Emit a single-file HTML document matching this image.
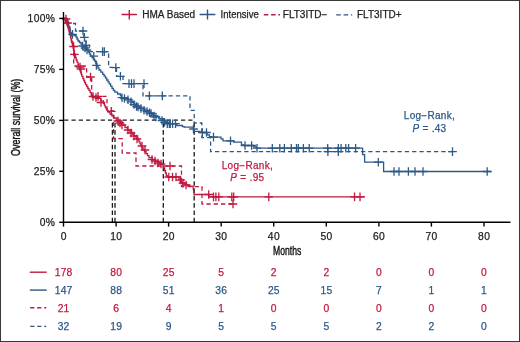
<!DOCTYPE html>
<html><head><meta charset="utf-8"><style>
html,body{margin:0;padding:0;background:#fff;}
body{width:520px;height:342px;overflow:hidden;font-family:"Liberation Sans",sans-serif;}
svg{display:block;will-change:transform;}
</style></head><body>
<svg width="520" height="342" viewBox="0 0 520 342"><rect x="0.5" y="0.5" width="519" height="341" fill="#fff" stroke="#383838" stroke-width="1"/>
<g stroke="#1a1a1a" stroke-width="1.3" stroke-dasharray="4.3 3" fill="none">
<path d="M64.2 120.2 H194.2" stroke-dasharray="4.2 3.1"/>
<path d="M112.4 222.3 V120.3" stroke-dasharray="4.6 2.7"/>
<path d="M115.0 222.3 V120.3" stroke-dasharray="4.6 2.7"/>
<path d="M163.3 222.3 V120.3" stroke-dasharray="4.6 2.7"/>
<path d="M194.2 222.3 V120.3" stroke-dasharray="4.6 2.7"/>
</g>
<g fill="none" stroke-width="1.3">
<path d="M63.5 18.4 H66.0 V22.0 H68.0 V27.0 H70.0 V33.0 H71.5 V42.0 H73.7 V52.0 H73.7 V66.0 H86.6 V77.0 H91.7 V96.4 H107.0 V111.0 H113.5 V138.7 H122.2 V153.0 H136.0 V166.0 H181.5 V186.6 H202.0 V204.0 H234.0" stroke="#bf1a3f" stroke-dasharray="4.3 3"/>
<path d="M63.5 18.4 H68.5 V23.5 H75.5 V31.0 H84.0 V37.4 H86.0 V45.4 H89.5 V51.6 H108.6 V67.4 H116.5 V76.3 H123.0 V83.6 H143.0 V95.9 H190.0 V110.3 H194.2 V123.0 H201.8 V137.7 H210.6 V151.6 H452.5" stroke="#2d5987" stroke-dasharray="4.3 3"/>
<path d="M63.5 18.4 H66.5 V21.0 H67.5 V23.5 H68.5 V26.0 H69.2 V28.5 H70.0 V31.0 H70.5 V32.7 H71.0 V34.4 H74.0 V35.5 H76.0 V37.0 H77.0 V39.0 H78.0 V41.0 H79.5 V42.5 H81.0 V44.0 H82.5 V45.5 H84.0 V47.0 H85.5 V48.5 H87.0 V50.0 H88.2 V52.0 H89.4 V54.0 H90.7 V55.8 H92.0 V57.5 H93.3 V59.2 H94.7 V61.0 H95.8 V63.5 H97.0 V66.0 H98.0 V68.0 H99.0 V70.0 H100.8 V72.2 H102.7 V74.4 H104.1 V76.2 H105.5 V78.1 H106.7 V80.0 H108.0 V81.9 H109.2 V83.8 H110.6 V86.1 H112.0 V88.4 H113.4 V90.3 H114.8 V92.2 H117.6 V94.0 H120.4 V95.5 H121.4 V97.7 H127.2 V99.5 H131.9 V102.4 H133.7 V104.2 H135.4 V105.9 H140.0 V108.2 H144.7 V110.6 H149.4 V112.9 H151.8 V114.7 H154.1 V116.4 H158.8 V118.7 H163.5 V121.1 H167.0 V123.7 H176.7 V125.5 H182.5 V126.6 H184.3 V127.2 H193.5 V130.7 H194.2 V131.3 H200.0 V132.5 H207.0 V134.8 H209.4 V136.6 H211.8 V137.1 H221.0 V138.8 H223.0 V140.8 H233.5 V142.1 H241.5 V144.8 H244.2 V145.5 H253.6 V146.8 H256.3 V148.2 H362.6 V154.6 H364.6 V162.2 H383.6 V171.5 H491.5" stroke="#2d5987"/>
<path d="M63.5 18.4 H65.0 V21.0 H65.9 V23.0 H66.8 V25.0 H67.7 V27.5 H68.5 V30.0 H69.0 V31.8 H69.5 V33.5 H70.0 V35.2 H70.5 V37.0 H70.9 V38.8 H71.3 V40.5 H71.8 V42.2 H72.2 V44.0 H72.6 V46.0 H73.1 V48.0 H73.5 V50.0 H74.0 V51.9 H74.4 V53.7 H75.0 V55.8 H75.6 V57.9 H76.2 V60.0 H77.1 V62.2 H78.0 V64.5 H78.8 V67.0 H79.7 V69.4 H80.3 V71.2 H80.8 V72.9 H81.4 V74.7 H82.0 V76.4 H82.9 V78.5 H83.8 V80.5 H84.6 V82.5 H85.5 V84.6 H86.7 V86.5 H87.8 V88.5 H89.0 V90.4 H90.2 V92.7 H91.3 V95.0 H92.6 V97.4 H95.5 V98.4 H100.8 V100.8 H103.4 V103.4 H104.3 V105.2 H105.1 V106.9 H106.0 V108.7 H107.0 V110.3 H108.0 V112.0 H110.0 V114.0 H112.0 V116.0 H114.0 V118.0 H117.0 V120.5 H120.0 V123.0 H122.5 V125.2 H125.0 V127.5 H127.5 V129.8 H130.0 V132.0 H132.0 V134.0 H134.0 V136.0 H136.0 V138.0 H138.0 V140.0 H139.0 V141.9 H140.0 V143.8 H141.0 V145.7 H142.0 V147.6 H143.0 V149.5 H144.5 V151.5 H146.0 V153.6 H147.5 V155.6 H149.0 V157.6 H152.3 V159.6 H155.6 V161.7 H160.0 V164.5 H163.0 V166.5 H163.8 V168.0 H164.6 V170.5 H165.4 V173.0 H166.3 V175.3 H167.2 V177.0 H179.0 V179.3 H180.3 V181.5 H181.5 V183.0 H185.0 V185.0 H189.5 V186.2 H193.2 V189.0 H193.6 V192.0 H194.0 V194.5 H209.0 V196.9 H365.0" stroke="#bf1a3f"/>
</g>
<g fill="none" stroke-width="1.3">
<path d="M75.7 67.0 h8.6 M80.0 62.7 v8.6" stroke="#bf1a3f"/>
<path d="M86.2 77.0 h8.6 M90.5 72.7 v8.6" stroke="#bf1a3f"/>
<path d="M165.7 166.0 h8.6 M170.0 161.7 v8.6" stroke="#bf1a3f"/>
<path d="M228.7 204.0 h8.6 M233.0 199.7 v8.6" stroke="#bf1a3f"/>
<path d="M78.7 31.0 h8.6 M83.0 26.7 v8.6" stroke="#2d5987"/>
<path d="M80.1 37.4 h8.6 M84.4 33.1 v8.6" stroke="#2d5987"/>
<path d="M81.7 45.4 h8.6 M86.0 41.1 v8.6" stroke="#2d5987"/>
<path d="M98.3 51.6 h8.6 M102.6 47.3 v8.6" stroke="#2d5987"/>
<path d="M100.0 51.6 h8.6 M104.3 47.3 v8.6" stroke="#2d5987"/>
<path d="M111.5 67.6 h8.6 M115.8 63.3 v8.6" stroke="#2d5987"/>
<path d="M116.1 76.3 h8.6 M120.4 72.0 v8.6" stroke="#2d5987"/>
<path d="M124.7 83.6 h8.6 M129.0 79.3 v8.6" stroke="#2d5987"/>
<path d="M127.2 83.6 h8.6 M131.5 79.3 v8.6" stroke="#2d5987"/>
<path d="M129.7 83.6 h8.6 M134.0 79.3 v8.6" stroke="#2d5987"/>
<path d="M139.7 83.6 h8.6 M144.0 79.3 v8.6" stroke="#2d5987"/>
<path d="M145.1 95.9 h8.6 M149.4 91.6 v8.6" stroke="#2d5987"/>
<path d="M158.0 95.9 h8.6 M162.3 91.6 v8.6" stroke="#2d5987"/>
<path d="M323.6 151.6 h8.6 M327.9 147.3 v8.6" stroke="#2d5987"/>
<path d="M334.0 151.6 h8.6 M338.3 147.3 v8.6" stroke="#2d5987"/>
<path d="M448.2 151.6 h8.6 M452.5 147.3 v8.6" stroke="#2d5987"/>
<path d="M68.2 34.4 h8.6 M72.5 30.1 v8.6" stroke="#2d5987"/>
<path d="M78.2 46.0 h8.6 M82.5 41.7 v8.6" stroke="#2d5987"/>
<path d="M80.7 48.0 h8.6 M85.0 43.7 v8.6" stroke="#2d5987"/>
<path d="M82.7 50.0 h8.6 M87.0 45.7 v8.6" stroke="#2d5987"/>
<path d="M89.5 56.2 h8.6 M93.8 51.9 v8.6" stroke="#2d5987"/>
<path d="M92.1 65.4 h8.6 M96.4 61.1 v8.6" stroke="#2d5987"/>
<path d="M117.7 97.7 h8.6 M122.0 93.4 v8.6" stroke="#2d5987"/>
<path d="M120.2 98.5 h8.6 M124.5 94.2 v8.6" stroke="#2d5987"/>
<path d="M123.7 99.8 h8.6 M128.0 95.5 v8.6" stroke="#2d5987"/>
<path d="M126.7 101.8 h8.6 M131.0 97.5 v8.6" stroke="#2d5987"/>
<path d="M129.7 104.5 h8.6 M134.0 100.2 v8.6" stroke="#2d5987"/>
<path d="M132.2 106.5 h8.6 M136.5 102.2 v8.6" stroke="#2d5987"/>
<path d="M133.7 107.0 h8.6 M138.0 102.7 v8.6" stroke="#2d5987"/>
<path d="M136.7 108.5 h8.6 M141.0 104.2 v8.6" stroke="#2d5987"/>
<path d="M139.7 110.2 h8.6 M144.0 105.9 v8.6" stroke="#2d5987"/>
<path d="M142.7 111.5 h8.6 M147.0 107.2 v8.6" stroke="#2d5987"/>
<path d="M145.2 112.8 h8.6 M149.5 108.5 v8.6" stroke="#2d5987"/>
<path d="M146.7 113.5 h8.6 M151.0 109.2 v8.6" stroke="#2d5987"/>
<path d="M149.7 116.0 h8.6 M154.0 111.7 v8.6" stroke="#2d5987"/>
<path d="M151.7 117.0 h8.6 M156.0 112.7 v8.6" stroke="#2d5987"/>
<path d="M157.7 120.5 h8.6 M162.0 116.2 v8.6" stroke="#2d5987"/>
<path d="M160.3 122.3 h8.6 M164.6 118.0 v8.6" stroke="#2d5987"/>
<path d="M163.0 123.7 h8.6 M167.3 119.4 v8.6" stroke="#2d5987"/>
<path d="M165.0 123.7 h8.6 M169.3 119.4 v8.6" stroke="#2d5987"/>
<path d="M166.0 123.7 h8.6 M170.3 119.4 v8.6" stroke="#2d5987"/>
<path d="M168.3 123.7 h8.6 M172.6 119.4 v8.6" stroke="#2d5987"/>
<path d="M171.2 123.7 h8.6 M175.5 119.4 v8.6" stroke="#2d5987"/>
<path d="M189.2 129.0 h8.6 M193.5 124.7 v8.6" stroke="#2d5987"/>
<path d="M198.1 132.5 h8.6 M202.4 128.2 v8.6" stroke="#2d5987"/>
<path d="M202.2 132.5 h8.6 M206.5 128.2 v8.6" stroke="#2d5987"/>
<path d="M209.2 137.1 h8.6 M213.5 132.8 v8.6" stroke="#2d5987"/>
<path d="M226.2 140.8 h8.6 M230.5 136.5 v8.6" stroke="#2d5987"/>
<path d="M240.7 145.5 h8.6 M245.0 141.2 v8.6" stroke="#2d5987"/>
<path d="M247.3 145.5 h8.6 M251.6 141.2 v8.6" stroke="#2d5987"/>
<path d="M252.7 148.2 h8.6 M257.0 143.9 v8.6" stroke="#2d5987"/>
<path d="M268.0 148.2 h8.6 M272.3 143.9 v8.6" stroke="#2d5987"/>
<path d="M275.5 148.2 h8.6 M279.8 143.9 v8.6" stroke="#2d5987"/>
<path d="M280.1 148.2 h8.6 M284.4 143.9 v8.6" stroke="#2d5987"/>
<path d="M287.0 148.2 h8.6 M291.3 143.9 v8.6" stroke="#2d5987"/>
<path d="M292.2 148.2 h8.6 M296.5 143.9 v8.6" stroke="#2d5987"/>
<path d="M294.0 148.2 h8.6 M298.3 143.9 v8.6" stroke="#2d5987"/>
<path d="M299.1 148.2 h8.6 M303.4 143.9 v8.6" stroke="#2d5987"/>
<path d="M304.9 148.2 h8.6 M309.2 143.9 v8.6" stroke="#2d5987"/>
<path d="M323.4 148.2 h8.6 M327.7 143.9 v8.6" stroke="#2d5987"/>
<path d="M334.0 148.2 h8.6 M338.3 143.9 v8.6" stroke="#2d5987"/>
<path d="M336.8 148.2 h8.6 M341.1 143.9 v8.6" stroke="#2d5987"/>
<path d="M341.5 148.2 h8.6 M345.8 143.9 v8.6" stroke="#2d5987"/>
<path d="M344.3 148.2 h8.6 M348.6 143.9 v8.6" stroke="#2d5987"/>
<path d="M351.3 148.2 h8.6 M355.6 143.9 v8.6" stroke="#2d5987"/>
<path d="M374.0 162.2 h8.6 M378.3 157.9 v8.6" stroke="#2d5987"/>
<path d="M389.7 171.5 h8.6 M394.0 167.2 v8.6" stroke="#2d5987"/>
<path d="M394.7 171.5 h8.6 M399.0 167.2 v8.6" stroke="#2d5987"/>
<path d="M404.1 171.5 h8.6 M408.4 167.2 v8.6" stroke="#2d5987"/>
<path d="M410.7 171.5 h8.6 M415.0 167.2 v8.6" stroke="#2d5987"/>
<path d="M418.7 171.5 h8.6 M423.0 167.2 v8.6" stroke="#2d5987"/>
<path d="M482.9 171.5 h8.6 M487.2 167.2 v8.6" stroke="#2d5987"/>
<path d="M61.7 19.0 h8.6 M66.0 14.7 v8.6" stroke="#bf1a3f"/>
<path d="M63.3 23.0 h8.6 M67.6 18.7 v8.6" stroke="#bf1a3f"/>
<path d="M69.3 46.5 h8.6 M73.6 42.2 v8.6" stroke="#bf1a3f"/>
<path d="M70.1 54.4 h8.6 M74.4 50.1 v8.6" stroke="#bf1a3f"/>
<path d="M76.6 69.0 h8.6 M80.9 64.7 v8.6" stroke="#bf1a3f"/>
<path d="M88.7 96.5 h8.6 M93.0 92.2 v8.6" stroke="#bf1a3f"/>
<path d="M91.7 97.5 h8.6 M96.0 93.2 v8.6" stroke="#bf1a3f"/>
<path d="M93.7 96.4 h8.6 M98.0 92.1 v8.6" stroke="#bf1a3f"/>
<path d="M96.7 102.5 h8.6 M101.0 98.2 v8.6" stroke="#bf1a3f"/>
<path d="M107.0 111.3 h8.6 M111.3 107.0 v8.6" stroke="#bf1a3f"/>
<path d="M113.7 121.0 h8.6 M118.0 116.7 v8.6" stroke="#bf1a3f"/>
<path d="M115.7 123.0 h8.6 M120.0 118.7 v8.6" stroke="#bf1a3f"/>
<path d="M117.7 125.0 h8.6 M122.0 120.7 v8.6" stroke="#bf1a3f"/>
<path d="M123.7 130.0 h8.6 M128.0 125.7 v8.6" stroke="#bf1a3f"/>
<path d="M126.7 133.0 h8.6 M131.0 128.7 v8.6" stroke="#bf1a3f"/>
<path d="M129.7 136.0 h8.6 M134.0 131.7 v8.6" stroke="#bf1a3f"/>
<path d="M132.7 139.0 h8.6 M137.0 134.7 v8.6" stroke="#bf1a3f"/>
<path d="M137.7 146.0 h8.6 M142.0 141.7 v8.6" stroke="#bf1a3f"/>
<path d="M140.7 150.0 h8.6 M145.0 145.7 v8.6" stroke="#bf1a3f"/>
<path d="M147.7 159.5 h8.6 M152.0 155.2 v8.6" stroke="#bf1a3f"/>
<path d="M150.7 161.0 h8.6 M155.0 156.7 v8.6" stroke="#bf1a3f"/>
<path d="M153.7 163.0 h8.6 M158.0 158.7 v8.6" stroke="#bf1a3f"/>
<path d="M156.7 164.0 h8.6 M161.0 159.7 v8.6" stroke="#bf1a3f"/>
<path d="M164.5 177.0 h8.6 M168.8 172.7 v8.6" stroke="#bf1a3f"/>
<path d="M168.2 177.0 h8.6 M172.5 172.7 v8.6" stroke="#bf1a3f"/>
<path d="M171.7 177.0 h8.6 M176.0 172.7 v8.6" stroke="#bf1a3f"/>
<path d="M176.2 180.0 h8.6 M180.5 175.7 v8.6" stroke="#bf1a3f"/>
<path d="M178.7 183.0 h8.6 M183.0 178.7 v8.6" stroke="#bf1a3f"/>
<path d="M181.7 185.0 h8.6 M186.0 180.7 v8.6" stroke="#bf1a3f"/>
<path d="M204.4 194.5 h8.6 M208.7 190.2 v8.6" stroke="#bf1a3f"/>
<path d="M209.2 196.9 h8.6 M213.5 192.6 v8.6" stroke="#bf1a3f"/>
<path d="M211.6 196.9 h8.6 M215.9 192.6 v8.6" stroke="#bf1a3f"/>
<path d="M214.5 196.9 h8.6 M218.8 192.6 v8.6" stroke="#bf1a3f"/>
<path d="M227.5 196.9 h8.6 M231.8 192.6 v8.6" stroke="#bf1a3f"/>
<path d="M229.4 196.9 h8.6 M233.7 192.6 v8.6" stroke="#bf1a3f"/>
<path d="M264.4 196.9 h8.6 M268.8 192.6 v8.6" stroke="#bf1a3f"/>
<path d="M350.2 196.9 h8.6 M354.5 192.6 v8.6" stroke="#bf1a3f"/>
<path d="M355.7 196.9 h8.6 M360.0 192.6 v8.6" stroke="#bf1a3f"/>
</g>
<g stroke="#000" stroke-width="1.4" fill="none">
<path d="M63.5 12 V222.2"/>
<path d="M62.8 222.2 H510.5"/>
<path d="M59.2 222.3 H63.5"/>
<path d="M59.2 171.3 H63.5"/>
<path d="M59.2 120.4 H63.5"/>
<path d="M59.2 69.4 H63.5"/>
<path d="M59.2 18.4 H63.5"/>
<path d="M63.5 222.5 V226.6"/>
<path d="M116.1 222.5 V226.6"/>
<path d="M168.6 222.5 V226.6"/>
<path d="M221.2 222.5 V226.6"/>
<path d="M273.7 222.5 V226.6"/>
<path d="M326.3 222.5 V226.6"/>
<path d="M378.9 222.5 V226.6"/>
<path d="M431.4 222.5 V226.6"/>
<path d="M484.0 222.5 V226.6"/>
</g>
<g font-family="Liberation Sans, sans-serif" font-size="10.30" fill="#222" stroke="#222" stroke-width="0.25">
<text x="55.35" y="225.60" text-anchor="end" letter-spacing="0.35">0%</text>
<text x="55.35" y="174.63" text-anchor="end" letter-spacing="0.35">25%</text>
<text x="55.35" y="123.65" text-anchor="end" letter-spacing="0.35">50%</text>
<text x="55.35" y="72.67" text-anchor="end" letter-spacing="0.35">75%</text>
<text x="55.35" y="21.70" text-anchor="end" letter-spacing="0.35">100%</text>
<text x="63.67" y="239.80" text-anchor="middle" letter-spacing="0.35">0</text>
<text x="116.23" y="239.80" text-anchor="middle" letter-spacing="0.35">10</text>
<text x="168.80" y="239.80" text-anchor="middle" letter-spacing="0.35">20</text>
<text x="221.36" y="239.80" text-anchor="middle" letter-spacing="0.35">30</text>
<text x="273.92" y="239.80" text-anchor="middle" letter-spacing="0.35">40</text>
<text x="326.48" y="239.80" text-anchor="middle" letter-spacing="0.35">50</text>
<text x="379.04" y="239.80" text-anchor="middle" letter-spacing="0.35">60</text>
<text x="431.60" y="239.80" text-anchor="middle" letter-spacing="0.35">70</text>
<text x="484.16" y="239.80" text-anchor="middle" letter-spacing="0.35">80</text>
</g>
<text x="0" y="0" font-family="Liberation Sans, sans-serif" font-size="12.2" fill="#111" stroke="#111" stroke-width="0.4" textLength="28.2" lengthAdjust="spacingAndGlyphs" transform="translate(273.1,254.5)">Months</text>
<text x="0" y="0" font-family="Liberation Sans, sans-serif" font-size="12" fill="#111" stroke="#111" stroke-width="0.4" textLength="77.2" lengthAdjust="spacingAndGlyphs" transform="translate(19.8,155.9) rotate(-90)">Overall survival (%)</text>
<g stroke-width="1.4" fill="none">
<path d="M121.5 14.5 H137 M129.3 10 V19.5" stroke="#bf1a3f"/>
<path d="M199.6 14.5 H215.4 M207.5 9.5 V19.5" stroke="#2d5987"/>
<path d="M263.8 14.8 H280" stroke="#bf1a3f" stroke-dasharray="4.5 2.8"/>
<path d="M336.2 14.9 H352.2" stroke="#2d5987" stroke-dasharray="4.6 2.8"/>
</g>
<g font-family="Liberation Sans, sans-serif" font-size="10" fill="#222" stroke="#222" stroke-width="0.25">
<text x="142.3" y="17.8">HMA Based</text>
<text x="220.6" y="17.8" textLength="38.2" lengthAdjust="spacingAndGlyphs">Intensive</text>
<text x="282.8" y="17.8">FLT3ITD−</text>
<text x="357" y="17.8">FLT3ITD+</text>
</g>
<g font-family="Liberation Sans, sans-serif" font-size="10.00">
<text x="429.45" y="118.90" text-anchor="middle" fill="#2d5987" stroke="#2d5987" stroke-width="0.25" letter-spacing="0.30">Log−Rank,</text>
<text x="429.45" y="132.20" text-anchor="middle" fill="#2d5987" stroke="#2d5987" stroke-width="0.25" letter-spacing="0.30"><tspan font-style="italic">P</tspan> = .43</text>
<text x="247.35" y="168.70" text-anchor="middle" fill="#bf1a3f" stroke="#bf1a3f" stroke-width="0.25" letter-spacing="0.30">Log−Rank,</text>
<text x="247.35" y="181.40" text-anchor="middle" fill="#bf1a3f" stroke="#bf1a3f" stroke-width="0.25" letter-spacing="0.30"><tspan font-style="italic">P</tspan> = .95</text>
</g>
<path d="M29.8 272.2 H46.7" stroke="#bf1a3f" stroke-width="1.4" fill="none"/>
<g font-family="Liberation Sans, sans-serif" font-size="10.30" fill="#bf1a3f" stroke="#bf1a3f" stroke-width="0.25">
<text x="63.60" y="276.00" text-anchor="middle" letter-spacing="0.20">178</text>
<text x="116.16" y="276.00" text-anchor="middle" letter-spacing="0.20">80</text>
<text x="168.72" y="276.00" text-anchor="middle" letter-spacing="0.20">25</text>
<text x="221.28" y="276.00" text-anchor="middle" letter-spacing="0.20">5</text>
<text x="273.84" y="276.00" text-anchor="middle" letter-spacing="0.20">2</text>
<text x="326.40" y="276.00" text-anchor="middle" letter-spacing="0.20">2</text>
<text x="378.96" y="276.00" text-anchor="middle" letter-spacing="0.20">0</text>
<text x="431.52" y="276.00" text-anchor="middle" letter-spacing="0.20">0</text>
<text x="484.08" y="276.00" text-anchor="middle" letter-spacing="0.20">0</text>
</g>
<path d="M29.8 290.1 H46.7" stroke="#2d5987" stroke-width="1.4" fill="none"/>
<g font-family="Liberation Sans, sans-serif" font-size="10.30" fill="#2d5987" stroke="#2d5987" stroke-width="0.25">
<text x="63.60" y="293.90" text-anchor="middle" letter-spacing="0.20">147</text>
<text x="116.16" y="293.90" text-anchor="middle" letter-spacing="0.20">88</text>
<text x="168.72" y="293.90" text-anchor="middle" letter-spacing="0.20">51</text>
<text x="221.28" y="293.90" text-anchor="middle" letter-spacing="0.20">36</text>
<text x="273.84" y="293.90" text-anchor="middle" letter-spacing="0.20">25</text>
<text x="326.40" y="293.90" text-anchor="middle" letter-spacing="0.20">15</text>
<text x="378.96" y="293.90" text-anchor="middle" letter-spacing="0.20">7</text>
<text x="431.52" y="293.90" text-anchor="middle" letter-spacing="0.20">1</text>
<text x="484.08" y="293.90" text-anchor="middle" letter-spacing="0.20">1</text>
</g>
<path d="M30.2 307.7 H46.2" stroke="#bf1a3f" stroke-width="1.4" stroke-dasharray="4.2 2.8" fill="none"/>
<g font-family="Liberation Sans, sans-serif" font-size="10.30" fill="#bf1a3f" stroke="#bf1a3f" stroke-width="0.25">
<text x="63.60" y="311.50" text-anchor="middle" letter-spacing="0.20">21</text>
<text x="116.16" y="311.50" text-anchor="middle" letter-spacing="0.20">6</text>
<text x="168.72" y="311.50" text-anchor="middle" letter-spacing="0.20">4</text>
<text x="221.28" y="311.50" text-anchor="middle" letter-spacing="0.20">1</text>
<text x="273.84" y="311.50" text-anchor="middle" letter-spacing="0.20">0</text>
<text x="326.40" y="311.50" text-anchor="middle" letter-spacing="0.20">0</text>
<text x="378.96" y="311.50" text-anchor="middle" letter-spacing="0.20">0</text>
<text x="431.52" y="311.50" text-anchor="middle" letter-spacing="0.20">0</text>
<text x="484.08" y="311.50" text-anchor="middle" letter-spacing="0.20">0</text>
</g>
<path d="M30.2 326.4 H46.2" stroke="#2d5987" stroke-width="1.4" stroke-dasharray="4.2 2.8" fill="none"/>
<g font-family="Liberation Sans, sans-serif" font-size="10.30" fill="#2d5987" stroke="#2d5987" stroke-width="0.25">
<text x="63.60" y="330.20" text-anchor="middle" letter-spacing="0.20">32</text>
<text x="116.16" y="330.20" text-anchor="middle" letter-spacing="0.20">19</text>
<text x="168.72" y="330.20" text-anchor="middle" letter-spacing="0.20">9</text>
<text x="221.28" y="330.20" text-anchor="middle" letter-spacing="0.20">5</text>
<text x="273.84" y="330.20" text-anchor="middle" letter-spacing="0.20">5</text>
<text x="326.40" y="330.20" text-anchor="middle" letter-spacing="0.20">5</text>
<text x="378.96" y="330.20" text-anchor="middle" letter-spacing="0.20">2</text>
<text x="431.52" y="330.20" text-anchor="middle" letter-spacing="0.20">2</text>
<text x="484.08" y="330.20" text-anchor="middle" letter-spacing="0.20">0</text>
</g></svg>
</body></html>
